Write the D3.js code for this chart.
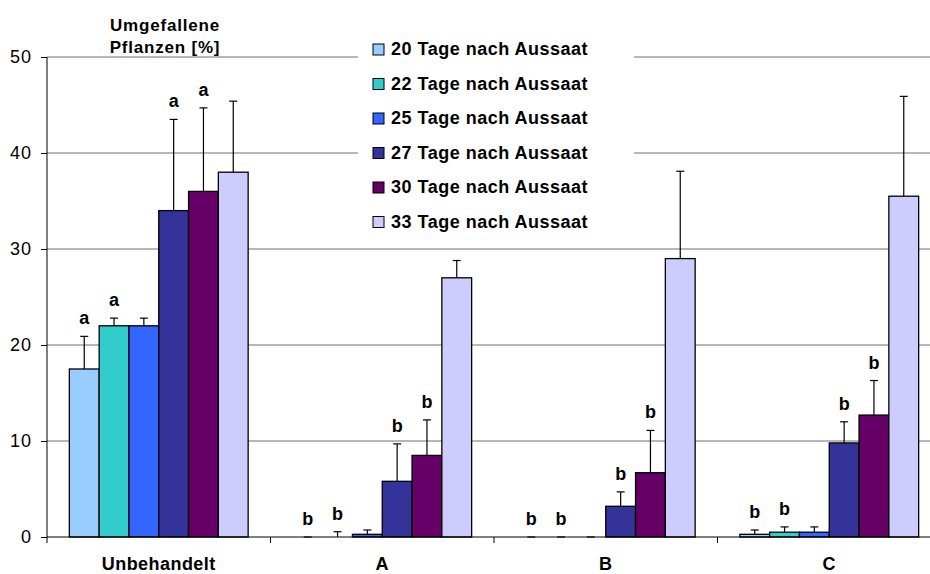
<!DOCTYPE html>
<html>
<head>
<meta charset="utf-8">
<script src="https://cdn.jsdelivr.net/npm/d3@7"></script>
<style>
  body { margin: 0; background: #fff; }
  text { font-family: "Liberation Sans", Arial, sans-serif; }
</style>
</head>
<body>
<div id="chart"></div>
<script>
// categories and series
var categories = ["Unbehandelt", "A", "B", "C"];
var seriesNames = ["20 Tage nach Aussaat", "22 Tage nach Aussaat", "25 Tage nach Aussaat",
                   "27 Tage nach Aussaat", "30 Tage nach Aussaat", "33 Tage nach Aussaat"];
var colors = ["#99ccff", "#33cccc", "#3366ff", "#333399", "#660066", "#ccccff"];

// values per series (one value per category)
var tage20 = [17.5, 0, 0, 0.28];
var tage22 = [22.0, 0, 0, 0.5];
var tage25 = [22.0, 0.28, 0, 0.5];
var tage27 = [34.0, 5.8, 3.2, 9.8];
var tage30 = [36.0, 8.5, 6.7, 12.7];
var tage33 = [38.0, 27.0, 29.0, 35.5];

// upper error (added to the value)
var err20 = [3.4, 0, 0, 0.45];
var err22 = [0.8, 0.55, 0, 0.55];
var err25 = [0.8, 0.45, 0, 0.55];
var err27 = [9.5, 3.9, 1.5, 2.2];
var err30 = [8.7, 3.7, 4.4, 3.6];
var err33 = [7.4, 1.8, 9.1, 10.4];

// significance letters
var sig20 = ["a", "b", "b", "b"];
var sig22 = ["a", "b", "b", "b"];
var sig25 = ["", "", "", ""];
var sig27 = ["a", "b", "b", "b"];
var sig30 = ["a", "b", "b", "b"];
var sig33 = ["", "", "", ""];

var yTicks = [0, 10, 20, 30, 40, 50];

var allValues = [tage20, tage22, tage25, tage27, tage30, tage33];
var allErrors = [err20, err22, err25, err27, err30, err33];
var allSigs = [sig20, sig22, sig25, sig27, sig30, sig33];

var width = 930, height = 574;
var plotLeft = 47, plotRight = 941, plotTop = 57, plotBottom = 537;

var data = [];
categories.forEach(function(c, ci) {
    seriesNames.forEach(function(s, si) {
        data.push({cat: c, ser: s, si: si,
                   value: allValues[si][ci], err: allErrors[si][ci], sig: allSigs[si][ci]});
    });
});

var svg = d3.select("#chart").append("svg")
    .attr("width", width)
    .attr("height", height);

var x0 = d3.scaleBand().domain(categories).range([plotLeft, plotRight]).padding(0);
var x1 = d3.scaleBand().domain(seriesNames).range([0, x0.bandwidth()])
    .paddingInner(0).paddingOuter(0.75);
var y = d3.scaleLinear().domain([0, 50]).range([plotBottom, plotTop]);

// gridlines
svg.append("g")
    .selectAll("line")
    .data(yTicks.filter(function(d) { return d > 0; }))
    .enter().append("line")
        .attr("x1", plotLeft).attr("x2", plotRight)
        .attr("y1", function(d) { return y(d); })
        .attr("y2", function(d) { return y(d); })
        .attr("stroke", "#6e6e6e")
        .attr("stroke-width", 1);

// legend background hides the grid behind it
svg.append("rect")
    .attr("x", 358).attr("y", 30).attr("width", 276).attr("height", 210)
    .attr("fill", "#fff");

// bars
var bars = svg.append("g");
bars.selectAll("rect")
    .data(data).enter()
    .append("rect")
        .attr("x", function(d) { return x0(d.cat) + x1(d.ser); })
        .attr("y", function(d) { return y(d.value); })
        .attr("width", x1.bandwidth())
        .attr("height", function(d) { return y(0) - y(d.value); })
        .attr("fill", function(d) { return colors[d.si]; })
        .attr("stroke", "#000")
        .attr("stroke-width", 1.3);

// error bars (upper only)
var eb = svg.append("g").attr("stroke", "#000").attr("stroke-width", 1.2);
data.forEach(function(d) {
    var cx = x0(d.cat) + x1(d.ser) + x1.bandwidth() / 2;
    var yt = y(d.value + d.err);
    eb.append("line").attr("x1", cx).attr("x2", cx).attr("y1", y(d.value)).attr("y2", yt);
    eb.append("line").attr("x1", cx - 4).attr("x2", cx + 4).attr("y1", yt).attr("y2", yt);
});

// significance letters
svg.append("g").selectAll("text")
    .data(data.filter(function(d) { return d.sig !== ""; }))
    .enter().append("text")
        .attr("x", function(d) { return x0(d.cat) + x1(d.ser) + x1.bandwidth() / 2; })
        .attr("y", function(d) { return y(d.value + d.err) - 12; })
        .attr("text-anchor", "middle")
        .style("font-size", "18px")
        .style("font-weight", "bold")
        .text(function(d) { return d.sig; });

// y axis
var yAxis = d3.axisLeft(y).tickValues(yTicks).tickSize(6).tickPadding(9);
var gy = svg.append("g")
    .attr("transform", "translate(" + plotLeft + ",0)")
    .call(yAxis);
gy.select(".domain").attr("d", "M0," + plotTop + "V" + (plotBottom + 6));
gy.selectAll("text").style("font-size", "18px").attr("fill", "#000")
    .style("letter-spacing", "1px")
    .style("font-family", "'Liberation Sans', Arial, sans-serif");

// x axis: line with ticks at the category borders
var gx = svg.append("g");
gx.append("line")
    .attr("x1", plotLeft).attr("x2", plotRight)
    .attr("y1", plotBottom).attr("y2", plotBottom)
    .attr("stroke", "#000");
gx.selectAll(".tick")
    .data(categories.slice(1)).enter()
    .append("line")
        .attr("x1", function(d) { return x0(d); })
        .attr("x2", function(d) { return x0(d); })
        .attr("y1", plotBottom).attr("y2", plotBottom + 6)
        .attr("stroke", "#000");
gx.selectAll(".catlabel")
    .data(categories).enter()
    .append("text")
        .attr("x", function(d) { return x0(d) + x0.bandwidth() / 2; })
        .attr("y", 570)
        .attr("text-anchor", "middle")
        .style("font-size", "18px")
        .style("font-weight", "bold")
        .style("letter-spacing", "0.45px")
        .text(function(d) { return d; });

// y title
var title = svg.append("text")
    .attr("text-anchor", "middle")
    .style("font-size", "17px")
    .style("font-weight", "bold")
    .style("letter-spacing", "0.8px");
title.append("tspan").attr("x", 165).attr("y", 31).text("Umgefallene");
title.append("tspan").attr("x", 165).attr("y", 53).text("Pflanzen [%]");

// legend
var legend = svg.append("g").selectAll("g")
    .data(seriesNames).enter()
    .append("g")
        .attr("transform", function(d, i) { return "translate(373," + (44 + i * 34.5) + ")"; });
legend.append("rect")
    .attr("width", 11).attr("height", 11)
    .attr("fill", function(d, i) { return colors[i]; })
    .attr("stroke", "#000").attr("stroke-width", 1);
legend.append("text")
    .attr("x", 18).attr("y", 11)
    .style("font-size", "18px")
    .style("font-weight", "bold")
    .style("letter-spacing", "0.5px")
    .text(function(d) { return d; });
</script>
</body>
</html>
